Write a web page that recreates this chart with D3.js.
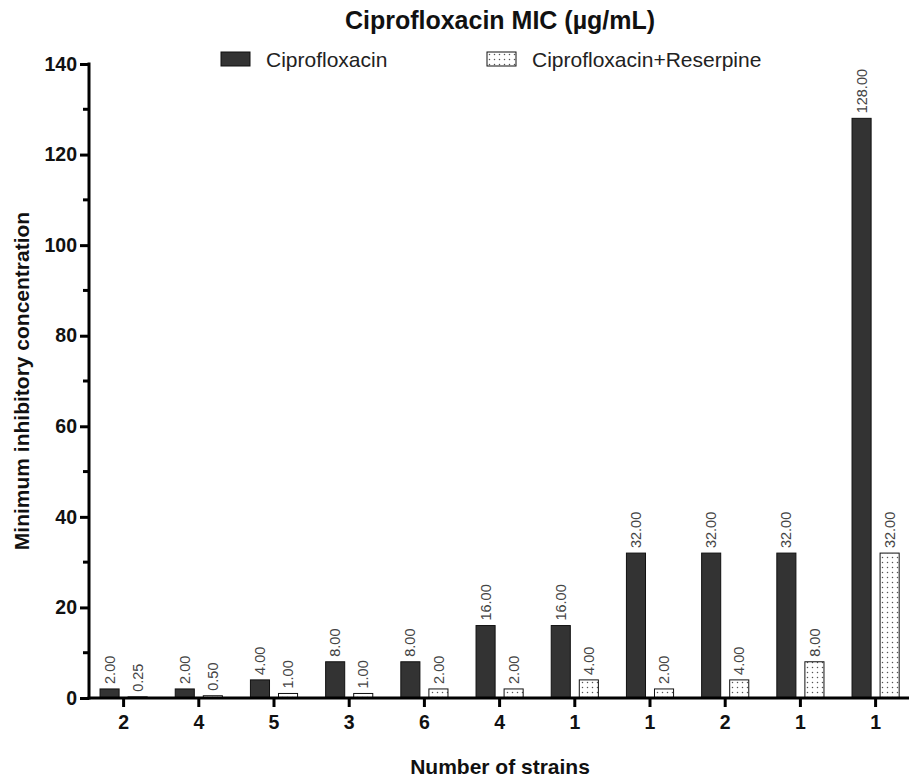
<!DOCTYPE html>
<html>
<head>
<meta charset="utf-8">
<script src="https://cdn.jsdelivr.net/npm/d3@7"></script>
<style>
  body { margin: 0; background: #fff; }
  text { font-family: "Liberation Sans", Arial, sans-serif; }
</style>
</head>
<body>
<svg width="909" height="781"></svg>
<script>
// data
var strains = ["2", "4", "5", "3", "6", "4", "1", "1", "2", "1", "1"];
var cipro = [2, 2, 4, 8, 8, 16, 16, 32, 32, 32, 128];
var ciproRes = [0.25, 0.5, 1, 1, 2, 2, 4, 2, 4, 8, 32];
var seriesNames = ["Ciprofloxacin", "Ciprofloxacin+Reserpine"];
var yTicks = [0, 20, 40, 60, 80, 100, 120, 140];

var svg = d3.select("svg"),
    width = +svg.attr("width"),
    height = +svg.attr("height");

var plotLeft = 89, plotBottom = 698, plotTop = 64;

// pattern for the dotted bars
var defs = svg.append("defs");
var pat = defs.append("pattern")
    .attr("id", "dots")
    .attr("patternUnits", "userSpaceOnUse")
    .attr("width", 5).attr("height", 5);
pat.append("rect").attr("width", 5).attr("height", 5).attr("fill", "#fff");
pat.append("circle").attr("cx", 2.5).attr("cy", 2.5).attr("r", 0.75).attr("fill", "#555");

var groups = strains.map(function(s, i) { return i; });

var x0 = d3.scaleBand().domain(groups).range([86, 86 + 11 * 75.2]);
var x1 = d3.scaleBand().domain(seriesNames).range([0, x0.bandwidth()])
    .paddingInner(0.32).paddingOuter(0.5);
var y = d3.scaleLinear().domain([0, 140]).range([plotBottom, plotTop]);

var rows = [];
groups.forEach(function(i) {
  rows.push({g: i, s: seriesNames[0], v: cipro[i]});
  rows.push({g: i, s: seriesNames[1], v: ciproRes[i]});
});

// bars
svg.append("g").selectAll("rect")
  .data(rows)
  .enter().append("rect")
    .attr("x", function(d) { return x0(d.g) + x1(d.s); })
    .attr("y", function(d) { return y(d.v); })
    .attr("width", x1.bandwidth())
    .attr("height", function(d) { return plotBottom - y(d.v); })
    .attr("fill", function(d) { return d.s == seriesNames[0] ? "#333" : "url(#dots)"; })
    .attr("stroke", "#111")
    .attr("stroke-width", 1);

// value labels
svg.append("g").selectAll("text")
  .data(rows)
  .enter().append("text")
    .attr("transform", function(d) {
      var cx = x0(d.g) + x1(d.s) + x1.bandwidth() / 2;
      return "translate(" + cx + "," + (y(d.v) - 5) + ") rotate(-90)";
    })
    .attr("dy", "0.35em")
    .attr("font-size", 14.5)
    .attr("fill", "#444")
    .text(function(d) { return d.v.toFixed(2); });

// y axis
var yAxis = svg.append("g")
    .attr("transform", "translate(" + plotLeft + ",0)")
    .call(d3.axisLeft(y).tickValues(yTicks).tickSize(9).tickPadding(3).tickFormat(d3.format("d")));
yAxis.append("g").selectAll("line")
  .data(d3.range(10, 140, 20))
  .enter().append("line")
    .attr("x1", -6).attr("x2", 0)
    .attr("y1", function(d) { return y(d); })
    .attr("y2", function(d) { return y(d); });
yAxis.select(".domain").attr("d", "M0," + (plotTop - 1.5) + "V" + (plotBottom + 1.5));

// x axis
var xAxis = svg.append("g")
    .attr("transform", "translate(0," + plotBottom + ")")
    .call(d3.axisBottom(x0).tickSize(9).tickPadding(8).tickFormat(function(i) { return strains[i]; }));
xAxis.select(".domain").attr("d", "M" + (plotLeft - 1.5) + ",0H" + width);

[yAxis, xAxis].forEach(function(a) {
  a.selectAll(".domain, line").attr("stroke", "#000").attr("stroke-width", 3);
  a.selectAll("text")
    .attr("font-family", "Liberation Sans, Arial, sans-serif")
    .attr("font-size", 19.5)
    .attr("font-weight", "bold")
    .attr("fill", "#111");
});

// title
svg.append("text")
    .attr("x", 500).attr("y", 29)
    .attr("text-anchor", "middle")
    .attr("font-size", 25)
    .attr("font-weight", "bold")
    .attr("fill", "#111")
    .text("Ciprofloxacin MIC (\u00b5g/mL)");

// legend
var legend = svg.append("g").selectAll("g")
  .data(seriesNames)
  .enter().append("g")
    .attr("transform", function(d, i) { return "translate(" + (i == 0 ? 221 : 487) + ",52)"; });
legend.append("rect")
    .attr("width", 29).attr("height", 14)
    .attr("fill", function(d, i) { return i == 0 ? "#333" : "url(#dots)"; })
    .attr("stroke", "#111").attr("stroke-width", 1);
legend.append("text")
    .attr("x", 45).attr("y", 14.5)
    .attr("font-size", 21)
    .attr("fill", "#222")
    .text(function(d) { return d; });

// axis titles
svg.append("text")
    .attr("transform", "translate(29,381) rotate(-90)")
    .attr("text-anchor", "middle")
    .attr("font-size", 21)
    .attr("font-weight", "bold")
    .attr("fill", "#111")
    .text("Minimum inhibitory concentration");

svg.append("text")
    .attr("x", 500).attr("y", 774)
    .attr("text-anchor", "middle")
    .attr("font-size", 21)
    .attr("font-weight", "bold")
    .attr("fill", "#111")
    .text("Number of strains");
</script>
</body>
</html>
